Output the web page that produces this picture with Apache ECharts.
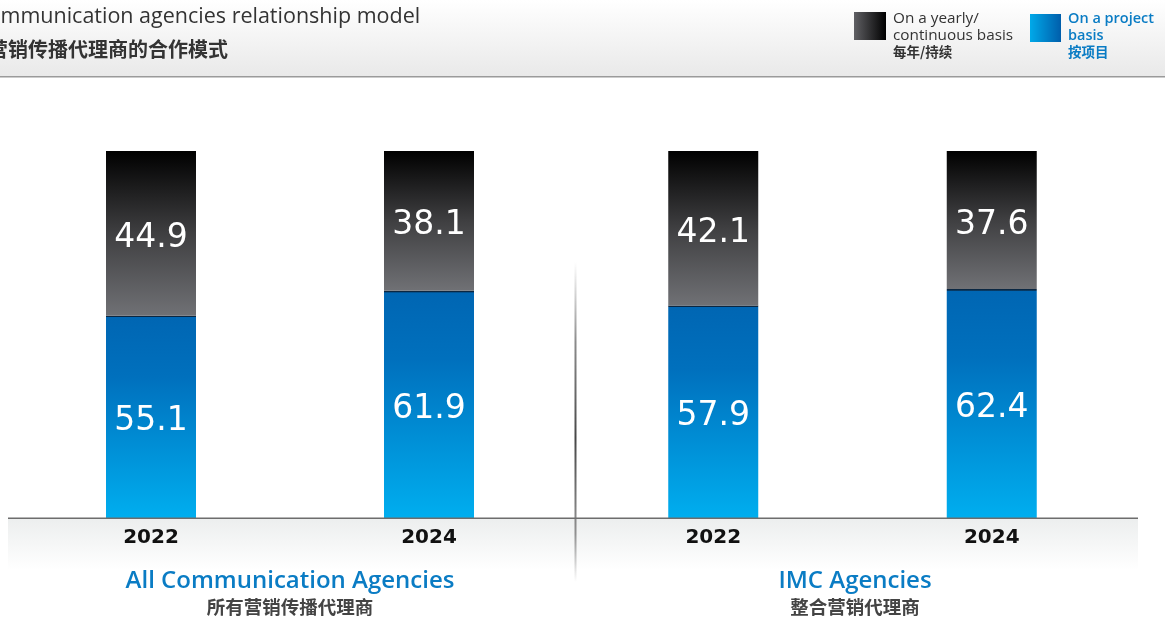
<!DOCTYPE html>
<html><head><meta charset="utf-8">
<script src="https://cdn.jsdelivr.net/npm/echarts@6/dist/echarts.min.js"></script>
<style>html,body{margin:0;padding:0;background:#fff}#c{width:1165px;height:621px}</style>
</head><body><div id="c"></div>
<script>
const years = ['2022', '2024'];
const projectAll = [55.1, 61.9];
const yearlyAll = [44.9, 38.1];
const projectIMC = [57.9, 62.4];
const yearlyIMC = [42.1, 37.6];
const groupNames = ['All Communication Agencies', 'IMC Agencies'];
const groupNamesZh = ['所有营销传播代理商', '整合营销代理商'];

const FONT = '"Open Sans", "Liberation Sans", Arial, sans-serif';
const NUM = '"DejaVu Sans", sans-serif';
const ZH = '"Noto Sans CJK SC", sans-serif';
const blueGrad = {type:'linear',x:0,y:0,x2:0,y2:1,colorStops:[
  {offset:0,color:'#0b2742'},{offset:0.006,color:'#0b2742'},{offset:0.008,color:'#0066b3'},
  {offset:0.3,color:'#0070bd'},{offset:1,color:'#00aeef'}]};
const greyGrad = {type:'linear',x:0,y:0,x2:0,y2:1,colorStops:[
  {offset:0,color:'#000000'},{offset:0.5,color:'#3f3f41'},{offset:1,color:'#707175'}]};

const grids = [
  {left:12, width:556, top:151, height:367},
  {left:574, width:557, top:151, height:367}
];
const xAxes = grids.map((g,i)=>({type:'category', gridIndex:i, data:years,
  axisLine:{show:false}, axisTick:{show:false},
  axisLabel:{fontSize:20, fontWeight:'bold', color:'#111', margin:10, fontFamily:NUM}}));
const yAxes = grids.map((g,i)=>({type:'value', gridIndex:i, min:0, max:100, show:false}));
const lbl = {show:true, position:'inside', color:'#fff', fontSize:33, fontFamily:NUM, offset:[0,5],
  formatter:p=>p.value.toFixed(1)};
function mk(data, idx, stack, color){
  return {type:'bar', xAxisIndex:idx, yAxisIndex:idx, stack:stack, data:data, barWidth:90,
    itemStyle:{color:color}, label:lbl, silent:true};
}
const series = [
  mk(projectAll,0,'a',blueGrad), mk(yearlyAll,0,'a',greyGrad),
  mk(projectIMC,1,'b',blueGrad), mk(yearlyIMC,1,'b',greyGrad)
];

const graphic = [
  {type:'rect', shape:{x:0,y:0,width:1165,height:76}, z:-10,
    style:{fill:{type:'linear',x:0,y:0,x2:0,y2:1,colorStops:[{offset:0,color:'#ffffff'},{offset:1,color:'#e9e9e9'}]}}},
  {type:'rect', shape:{x:0,y:76,width:1165,height:1.5}, z:-9, style:{fill:'#9a9a9a'}},
  {type:'text', x:-26, y:17, style:{text:'Communication agencies relationship model', fontSize:21.5,
    fill:'#333', fontFamily:FONT, verticalAlign:'middle'}},
  {type:'text', x:-12, y:49, style:{text:'营销传播代理商的合作模式', fontSize:20, fontWeight:'bold',
    fill:'#333', fontFamily:ZH, verticalAlign:'middle'}},
  // legend
  {type:'rect', shape:{x:854,y:12,width:32,height:28},
    style:{fill:{type:'linear',x:0,y:0,x2:1,y2:0,colorStops:[{offset:0,color:'#606064'},{offset:1,color:'#000'}]}}},
  {type:'text', x:893, y:10, style:{text:'On a yearly/\ncontinuous basis', fontSize:15.3, lineHeight:17,
    fill:'#333', fontFamily:FONT}},
  {type:'text', x:893, y:52, style:{text:'每年/持续', fontSize:13.5, fontWeight:'bold',
    fill:'#333', fontFamily:ZH, verticalAlign:'middle'}},
  {type:'rect', shape:{x:1030,y:14,width:31,height:28},
    style:{fill:{type:'linear',x:0,y:0,x2:1,y2:0,colorStops:[{offset:0,color:'#00a9e9'},{offset:1,color:'#005eab'}]}}},
  {type:'text', x:1068, y:10, style:{text:'On a project\nbasis', fontSize:14.5, fontWeight:600, lineHeight:17,
    fill:'#0a7cc4', fontFamily:FONT}},
  {type:'text', x:1068, y:52, style:{text:'按项目', fontSize:13.5, fontWeight:'bold',
    fill:'#0a7cc4', fontFamily:ZH, verticalAlign:'middle'}},
  // bottom band
  {type:'rect', shape:{x:8,y:518,width:1130,height:52}, z:-10,
    style:{fill:{type:'linear',x:0,y:0,x2:0,y2:1,colorStops:[{offset:0,color:'#eceeee'},{offset:1,color:'#ffffff'}]}}},
  {type:'rect', shape:{x:8,y:517.5,width:1130,height:1.5}, z:10, style:{fill:'#6d6d6d'}},
  // divider
  {type:'rect', shape:{x:574.5,y:262,width:2,height:320}, z:10,
    style:{fill:{type:'linear',x:0,y:0,x2:0,y2:1,colorStops:[
      {offset:0,color:'rgba(120,120,120,0)'},{offset:0.25,color:'rgba(110,110,110,0.8)'},
      {offset:0.55,color:'rgba(70,70,70,1)'},{offset:0.85,color:'rgba(120,120,120,0.8)'},
      {offset:1,color:'rgba(120,120,120,0)'}]}}},
  // group titles
  {type:'text', x:290, y:581, style:{text:groupNames[0], fontSize:24, fontWeight:600, fill:'#0a7cc4', fontFamily:FONT,
    align:'center', verticalAlign:'middle'}},
  {type:'text', x:290, y:607, style:{text:groupNamesZh[0], fontSize:18.5, fontWeight:'bold', fill:'#444',
    fontFamily:ZH, align:'center', verticalAlign:'middle'}},
  {type:'text', x:855, y:581, style:{text:groupNames[1], fontSize:24, fontWeight:600, fill:'#0a7cc4', fontFamily:FONT,
    align:'center', verticalAlign:'middle'}},
  {type:'text', x:855, y:607, style:{text:groupNamesZh[1], fontSize:18.5, fontWeight:'bold', fill:'#444',
    fontFamily:ZH, align:'center', verticalAlign:'middle'}}
];

const chart = echarts.init(document.getElementById('c'), null, {renderer:'canvas'});
chart.setOption({animation:false, grid:grids, xAxis:xAxes, yAxis:yAxes, series:series, graphic:graphic});
</script></body></html>
